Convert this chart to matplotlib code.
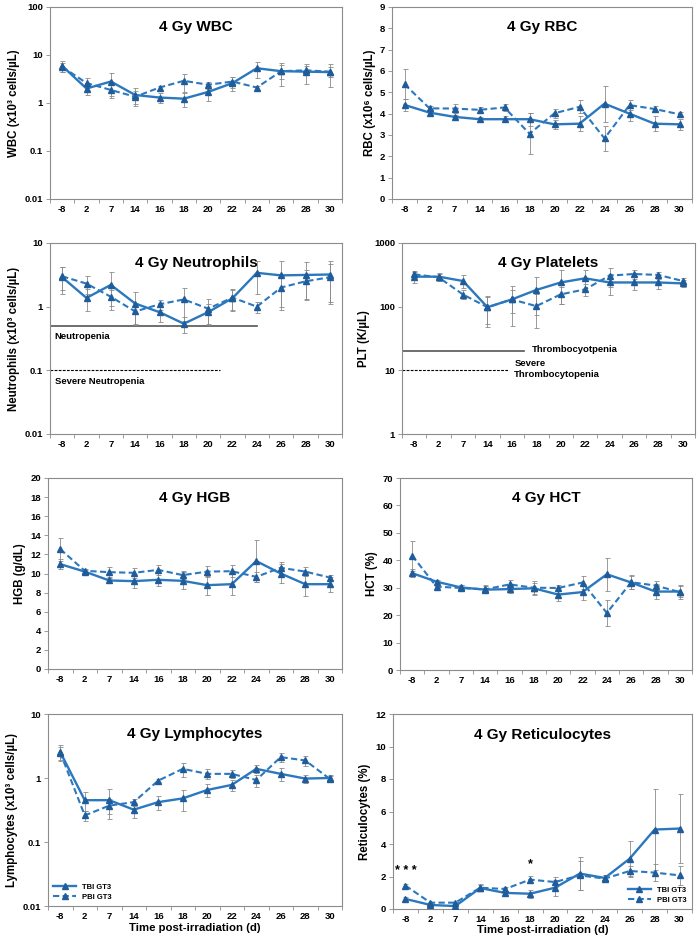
import matplotlib
matplotlib.use('Agg')
import matplotlib.pyplot as plt
from matplotlib.ticker import FixedLocator, FuncFormatter, NullLocator
import numpy as np

plt.rcParams['font.family'] = ['Liberation Sans', 'DejaVu Sans']
plt.rcParams['font.weight'] = 'bold'

# time points (days post-irradiation)
days = ['-8', '2', '7', '14', '16', '18', '20', '22', '24', '26', '28', '30']

# WBC (x10^3 cells/uL)
wbc_tbi = [5.9, 2.0, 2.8, 1.47, 1.3, 1.23, 1.7, 2.6, 5.3, 4.6, 4.5, 4.4]
wbc_tbi_err = [1.5, 0.5, 1.5, 0.6, 0.3, 0.4, 0.6, 0.8, 2.0, 2.3, 2.0, 2.2]
wbc_pbi = [5.7, 2.6, 1.87, 1.35, 2.1, 2.9, 2.4, 2.8, 2.1, 4.6, 4.8, 4.5]
wbc_pbi_err = [1.2, 0.7, 0.5, 0.4, 0.2, 1.2, 0.4, 0.7, 0.2, 1.5, 1.0, 1.0]

# RBC (x10^6 cells/uL)
rbc_tbi = [4.41, 4.05, 3.85, 3.74, 3.74, 3.74, 3.5, 3.53, 4.47, 4.0, 3.53, 3.5]
rbc_tbi_err = [0.3, 0.1, 0.1, 0.1, 0.15, 0.3, 0.2, 0.35, 0.85, 0.35, 0.35, 0.25]
rbc_pbi = [5.38, 4.25, 4.24, 4.18, 4.29, 3.06, 4.02, 4.32, 2.84, 4.4, 4.22, 3.97]
rbc_pbi_err = [0.7, 0.1, 0.2, 0.15, 0.15, 0.95, 0.2, 0.3, 0.6, 0.25, 0.15, 0.1]

# Neutrophils (x10^3 cells/uL)
neu_tbi = [2.9, 1.37, 2.2, 1.12, 0.82, 0.54, 0.82, 1.36, 3.4, 3.1, 3.15, 3.2]
neu_tbi_err = [1.3, 0.5, 1.3, 0.6, 0.25, 0.15, 0.3, 0.5, 1.8, 2.2, 1.9, 2.0]
neu_pbi = [3.0, 2.3, 1.43, 0.84, 1.09, 1.3, 0.93, 1.39, 1.0, 2.0, 2.5, 2.9]
neu_pbi_err = [1.2, 0.7, 0.4, 0.3, 0.2, 0.7, 0.4, 0.5, 0.2, 1.0, 1.2, 1.8]

# Platelets (K/uL)
plt_tbi = [296, 296, 253, 98, 130, 183, 240, 279, 240, 240, 240, 232]
plt_tbi_err = [60, 40, 60, 45, 80, 110, 130, 100, 90, 60, 50, 30]
plt_pbi = [322, 289, 155, 98, 130, 102, 156, 187, 307, 326, 315, 253]
plt_pbi_err = [40, 40, 25, 50, 50, 55, 45, 40, 100, 50, 40, 30]

# HGB (g/dL)
hgb_tbi = [10.98, 10.2, 9.27, 9.2, 9.34, 9.23, 8.78, 8.88, 11.3, 10.0, 8.88, 8.88]
hgb_tbi_err = [0.5, 0.2, 0.3, 0.7, 0.7, 0.9, 1.0, 1.1, 2.2, 1.0, 1.2, 0.8]
hgb_pbi = [12.55, 10.28, 10.14, 10.07, 10.38, 9.83, 10.2, 10.24, 9.65, 10.6, 10.2, 9.58]
hgb_pbi_err = [1.2, 0.2, 0.5, 0.5, 0.5, 0.4, 0.6, 0.6, 0.5, 0.6, 0.5, 0.3]

# HCT (%)
hct_tbi = [35.3, 32.2, 30.1, 29.3, 29.5, 29.8, 27.5, 28.4, 34.9, 31.9, 28.6, 28.6]
hct_tbi_err = [1.5, 0.5, 1.0, 1.2, 1.5, 2.0, 2.3, 3.0, 6.0, 2.5, 2.8, 2.0]
hct_pbi = [41.7, 30.4, 29.9, 29.4, 31.2, 30.0, 29.9, 31.9, 20.8, 32.0, 30.8, 28.4]
hct_pbi_err = [5.5, 0.5, 1.0, 1.5, 1.5, 2.5, 1.0, 2.5, 4.8, 2.5, 1.5, 2.5]

# Lymphocytes (x10^3 cells/uL)
lym_tbi = [2.54, 0.45, 0.45, 0.32, 0.42, 0.48, 0.65, 0.78, 1.39, 1.16, 0.98, 1.0]
lym_tbi_err = [0.7, 0.15, 0.22, 0.08, 0.1, 0.17, 0.15, 0.15, 0.2, 0.25, 0.15, 0.12]
lym_pbi = [2.5, 0.26, 0.37, 0.42, 0.91, 1.39, 1.16, 1.16, 0.93, 2.12, 1.88, 0.97]
lym_pbi_err = [0.6, 0.05, 0.1, 0.05, 0.05, 0.35, 0.2, 0.15, 0.2, 0.35, 0.35, 0.1]

# Reticulocytes (%)
ret_tbi = [0.62, 0.25, 0.18, 1.29, 0.99, 0.94, 1.31, 2.18, 1.91, 3.1, 4.89, 4.95]
ret_tbi_err = [0.1, 0.05, 0.05, 0.2, 0.1, 0.25, 0.5, 1.0, 0.2, 1.1, 2.5, 2.1]
ret_pbi = [1.44, 0.39, 0.39, 1.31, 1.23, 1.81, 1.66, 2.07, 1.87, 2.34, 2.24, 2.07]
ret_pbi_err = [0.1, 0.05, 0.05, 0.2, 0.1, 0.2, 0.3, 0.9, 0.2, 0.3, 0.5, 0.6]

LINE = '#2B78BE'
MARK = '#1F5C99'
ERR = '#8a8a8a'
FRAME = '#8c8c8c'

W, H = 700, 943
fig = plt.figure(figsize=(W / 100, H / 100), dpi=100)


def make_axes(l, r, t, b):
    return fig.add_axes([l / W, 1 - b / H, (r - l) / W, (b - t) / H])


def log_fmt(v, pos):
    return '%g' % v


def draw_panel(ax, title, ylabel, tbi, tbi_err, pbi, pbi_err, ylim, log=False, yticks=None):
    x = np.arange(len(days))
    ax.errorbar(x, tbi, yerr=tbi_err, fmt='none', ecolor=ERR, elinewidth=0.6, capsize=1.8, capthick=0.6, zorder=2)
    ax.errorbar(x, pbi, yerr=pbi_err, fmt='none', ecolor=ERR, elinewidth=0.6, capsize=1.8, capthick=0.6, zorder=2)
    ax.plot(x, tbi, '-', color=LINE, lw=1.7, marker='^', ms=4, mfc=MARK, mec=MARK, label='TBI GT3', zorder=3)
    ax.plot(x, pbi, '--', color=LINE, lw=1.5, dashes=(3, 1.6), marker='^', ms=4, mfc=MARK, mec=MARK,
            label='PBI GT3', zorder=3)
    if log:
        ax.set_yscale('log')
        ax.yaxis.set_major_locator(FixedLocator(yticks))
        ax.yaxis.set_major_formatter(FuncFormatter(log_fmt))
        ax.yaxis.set_minor_locator(NullLocator())
    else:
        ax.set_yticks(yticks)
    ax.set_ylim(ylim)
    ax.set_xlim(-0.5, len(days) - 0.5)
    ax.set_xticks(x)
    ax.set_xticklabels(days)
    ax.set_xticks(np.arange(-0.5, len(days)), minor=True)
    ax.tick_params(axis='x', which='major', length=0, labelsize=6.8, pad=4)
    ax.tick_params(axis='x', which='minor', length=3, width=0.6, color=FRAME)
    ax.tick_params(axis='y', length=3, width=0.6, color=FRAME, labelsize=6.8, pad=2)
    for s in ax.spines.values():
        s.set_color(FRAME)
        s.set_linewidth(0.8)
    ax.set_ylabel(ylabel, fontsize=8.3, fontweight='bold', labelpad=3)
    ax.text(0.5, 0.93, title, transform=ax.transAxes, ha='center', va='top', fontsize=11, fontweight='bold')


ax1 = make_axes(50, 342, 7, 199)
draw_panel(ax1, '4 Gy WBC', 'WBC (x10³ cells/µL)', wbc_tbi, wbc_tbi_err, wbc_pbi, wbc_pbi_err,
           (0.01, 100), log=True, yticks=[0.01, 0.1, 1, 10, 100])

ax2 = make_axes(392, 692, 7, 199)
draw_panel(ax2, '4 Gy RBC', 'RBC (x10⁶ cells/µL)', rbc_tbi, rbc_tbi_err, rbc_pbi, rbc_pbi_err,
           (0, 9), yticks=range(0, 10))

ax3 = make_axes(50, 342, 243, 434)
draw_panel(ax3, '4 Gy Neutrophils', 'Neutrophils (x10³ cells/µL)', neu_tbi, neu_tbi_err, neu_pbi, neu_pbi_err,
           (0.01, 10), log=True, yticks=[0.01, 0.1, 1, 10])
ax3.plot([-0.5, 8.0], [0.5, 0.5], '-', color='#555555', lw=1.2, zorder=1)
ax3.plot([-0.5, 6.5], [0.1, 0.1], '--', color='black', lw=0.8, dashes=(2.5, 1.2), zorder=1)
ax3.text(-0.3, 0.34, 'Neutropenia', fontsize=6.8, fontweight='bold', va='center')
ax3.text(-0.3, 0.066, 'Severe Neutropenia', fontsize=6.8, fontweight='bold', va='center')

ax4 = make_axes(402, 695, 243, 434)
draw_panel(ax4, '4 Gy Platelets', 'PLT (K/µL)', plt_tbi, plt_tbi_err, plt_pbi, plt_pbi_err,
           (1, 1000), log=True, yticks=[1, 10, 100, 1000])
ax4.plot([-0.5, 4.5], [20, 20], '-', color='#555555', lw=1.2, zorder=1)
ax4.plot([-0.5, 3.85], [10, 10], '--', color='black', lw=0.8, dashes=(2.5, 1.2), zorder=1)
ax4.text(4.8, 21, 'Thrombocyotpenia', fontsize=6.8, fontweight='bold', va='center')
ax4.text(4.1, 10.5, 'Severe\nThrombocytopenia', fontsize=6.8, fontweight='bold', va='center', linespacing=1.3)

ax5 = make_axes(48, 342, 478, 669)
draw_panel(ax5, '4 Gy HGB', 'HGB (g/dL)', hgb_tbi, hgb_tbi_err, hgb_pbi, hgb_pbi_err,
           (0, 20), yticks=range(0, 21, 2))

ax6 = make_axes(400, 692, 478, 670)
draw_panel(ax6, '4 Gy HCT', 'HCT (%)', hct_tbi, hct_tbi_err, hct_pbi, hct_pbi_err,
           (0, 70), yticks=range(0, 71, 10))

ax7 = make_axes(48, 342, 714, 906)
draw_panel(ax7, '4 Gy Lymphocytes', 'Lymphocytes (x10³ cells/µL)', lym_tbi, lym_tbi_err, lym_pbi, lym_pbi_err,
           (0.01, 10), log=True, yticks=[0.01, 0.1, 1, 10])
ax7.set_xlabel('Time post-irradiation (d)', fontsize=8.2, fontweight='bold', labelpad=2)
ax7.legend(loc='lower left', frameon=False, fontsize=5.5, handlelength=3, borderaxespad=0.3, labelspacing=0.3)

ax8 = make_axes(393, 692, 714, 909)
draw_panel(ax8, '4 Gy Reticulocytes', 'Reticulocytes (%)', ret_tbi, ret_tbi_err, ret_pbi, ret_pbi_err,
           (0, 12), yticks=range(0, 13, 2))
ax8.set_xlabel('Time post-irradiation (d)', fontsize=8.2, fontweight='bold', labelpad=1)
ax8.legend(loc='lower right', frameon=False, fontsize=5.5, handlelength=3, borderaxespad=0.3, labelspacing=0.3)
ax8.text(0, 1.95, '* * *', fontsize=9, fontweight='bold', ha='center', va='bottom')
ax8.text(5, 2.4, '*', fontsize=9, fontweight='bold', ha='center', va='bottom')

fig.savefig('out.png', dpi=100)
